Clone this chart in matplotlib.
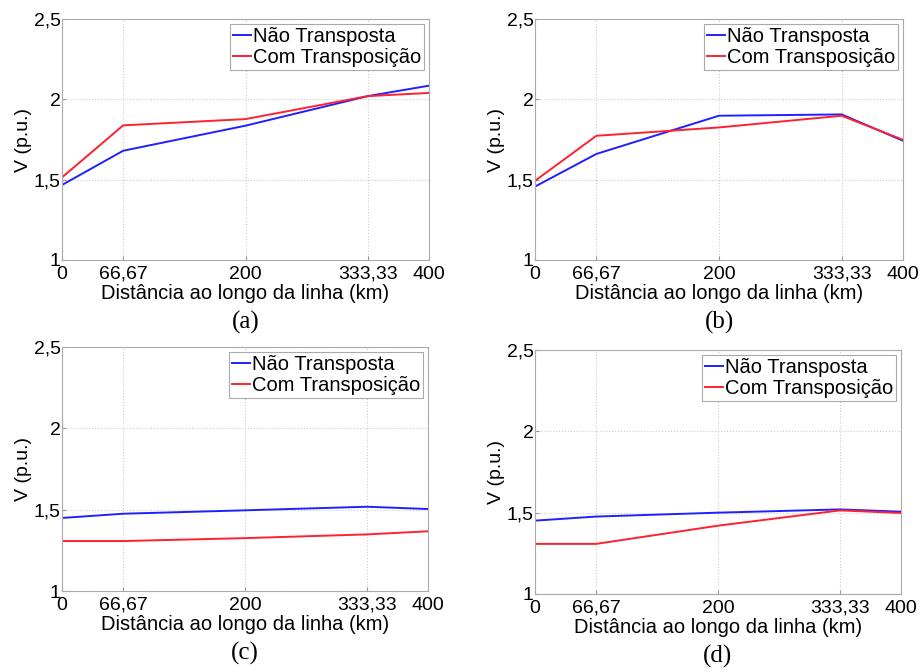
import matplotlib.pyplot as plt
import numpy as np

plt.rcParams['font.family'] = ['Liberation Sans', 'DejaVu Sans']

dist = [0, 66.67, 200, 333.33, 400]
xtick_labels = ['0', '66,67', '200', '333,33', '400']
ytick_labels = ['1', '1,5', '2', '2,5']

# tensao ao longo da linha, em p.u.
nao_transp_a = [1.467, 1.68, 1.836, 2.02, 2.085]
com_transp_a = [1.514, 1.838, 1.877, 2.02, 2.04]
nao_transp_b = [1.457, 1.66, 1.898, 1.906, 1.742]
com_transp_b = [1.493, 1.773, 1.825, 1.898, 1.748]
nao_transp_c = [1.449, 1.475, 1.496, 1.518, 1.504]
com_transp_c = [1.307, 1.307, 1.325, 1.348, 1.367]
nao_transp_d = [1.451, 1.476, 1.500, 1.520, 1.506]
com_transp_d = [1.308, 1.308, 1.420, 1.514, 1.498]

panels = [
    ('(a)', nao_transp_a, com_transp_a, [62, 19, 429, 260]),
    ('(b)', nao_transp_b, com_transp_b, [535, 19, 903, 260]),
    ('(c)', nao_transp_c, com_transp_c, [62, 347, 428, 591]),
    ('(d)', nao_transp_d, com_transp_d, [535, 350, 901, 594]),
]

W, H = 923, 672
fig = plt.figure(figsize=(W / 100, H / 100), dpi=100)

for label, nt, ct, (x0, y0, x1, y1) in panels:
    ax = fig.add_axes([x0 / W, 1 - y1 / H, (x1 - x0) / W, (y1 - y0) / H])
    ax.plot(dist, nt, color='#2020ff', lw=1.4, label='Não Transposta')
    ax.plot(dist, ct, color='#ff2030', lw=1.4, label='Com Transposição')
    ax.set_xlim(0, 400)
    ax.set_ylim(1, 2.5)
    ax.set_xticks(dist)
    ax.set_xticklabels(xtick_labels)
    ax.set_yticks([1, 1.5, 2, 2.5])
    ax.set_yticklabels(ytick_labels)
    ax.tick_params(direction='in', length=3, labelsize=14, color='#999999', pad=1)
    ax.tick_params(axis='x', pad=4)
    ax.grid(ls=':', lw=0.8, c='#cccccc')
    for s in ax.spines.values():
        s.set_color('#aaaaaa')
    ax.set_xlabel('Distância ao longo da linha (km)', fontsize=14.5, labelpad=1)
    ax.set_ylabel('V (p.u.)', fontsize=14, labelpad=1)
    leg = ax.legend(loc='upper right', fontsize=14.5, fancybox=False, handlelength=0.9,
                    handletextpad=0.1, borderpad=0.15, labelspacing=0.1,
                    borderaxespad=0.25, framealpha=1)
    leg.get_frame().set_edgecolor('#aaaaaa')
    leg.get_frame().set_linewidth(0.8)
    cx = (x0 + x1) / 2
    fig.text(cx / W, 1 - (y1 + 62) / H, label, ha='center', va='center',
             fontsize=18, family='Liberation Serif')

fig.savefig('out.png', dpi=100)
